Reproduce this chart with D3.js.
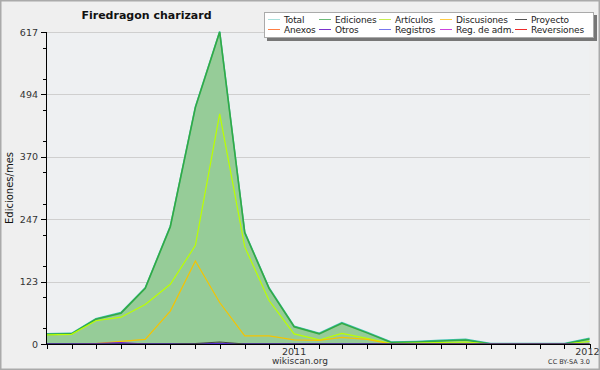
<!DOCTYPE html>
<html><head><meta charset="utf-8">
<script src="https://cdn.jsdelivr.net/npm/d3@7"></script>
<style>
html,body{margin:0;padding:0;background:#efefef;}
svg{display:block;}
text{font-family:"DejaVu Sans",sans-serif;}
</style></head>
<body>
<svg id="c" width="600" height="370"></svg>
<script>
const months = ["2010-03","2010-04","2010-05","2010-06","2010-07","2010-08","2010-09","2010-10","2010-11","2010-12",
 "2011-01","2011-02","2011-03","2011-04","2011-05","2011-06","2011-07","2011-08","2011-09","2011-10","2011-11","2011-12","2012-01"];
const total       = [19,20,49,61,110,232,468,617,220,110, 34,20,41,22,3,4,6,8,0,0,0,0, 10];
const ediciones   = [19,20,49,61,110,232,468,617,220,110, 34,20,41,22,3,4,6,8,0,0,0,0, 10];
const articulos   = [18,19,46,53,78,118,195,455,192,86, 20,8,21,11,1,2,3,4,0,0,0,0, 5];
const discusiones = [0,0,1,5,9,65,164,82,16,16, 8,7,13,9,0,1,1,1,0,0,0,0, 1];
const proyecto    = [0,0,0,0,0,0,1,4,0,0, 0,0,0,0,0,0,0,0,0,0,0,0, 0];
const otros       = [0,0,1,3,0,0,0,0,0,0, 0,0,0,0,0,0,0,0,0,0,0,0, 0];
const registros   = [1,1,1,1,1,1,1,1,1,1, 1,1,1,1,0,0,0,0,0,0,0,0, 0];
const yTicks = [0,123,247,370,494,617];
const xTickLabels = [{d:"2011-01",t:"2011",a:"middle",dx:0},{d:"2012-01",t:"2012",a:"end",dx:10}];
const legendItems = [
 {name:"Total",color:"#a8e0dc"},{name:"Ediciones",color:"#6cbb78"},{name:"Artículos",color:"#c8ee50"},
 {name:"Discusiones",color:"#ffcc44"},{name:"Proyecto",color:"#555555"},
 {name:"Anexos",color:"#ff7f44"},{name:"Otros",color:"#7a33cc"},{name:"Registros",color:"#7777ee"},
 {name:"Reg. de adm.",color:"#cc44dd"},{name:"Reversiones",color:"#ee2b2b"}];

const parse = d3.timeParse("%Y-%m");
const dates = months.map(parse);
const svg = d3.select("#c");
const x = d3.scaleTime().domain([parse("2010-03"), parse("2012-01")]).range([46.5, 589.5]);
const y = d3.scaleLinear().domain([0,617]).range([344,32]);

// frame
svg.append("rect").attr("x",0.75).attr("y",0.75).attr("width",598.5).attr("height",368.5)
  .attr("fill","#efefef").attr("stroke","#aaaaaa").attr("stroke-width",1.5);
svg.append("rect").attr("x",46.5).attr("y",32).attr("width",543).attr("height",312).attr("fill","#eef0f2");

// grid
svg.selectAll(".grid").data(yTicks.filter(v=>v>0)).join("line")
  .attr("x1",47).attr("x2",590).attr("y1",d=>Math.round(y(d))+0.5).attr("y2",d=>Math.round(y(d))+0.5)
  .attr("stroke","#cfcfcf").attr("stroke-width",1);

// series
const line = arr => d3.line().x((d,i)=>x(dates[i])).y(d=>y(d))(arr);
const area = d3.area().x((d,i)=>x(dates[i])).y0(y(0)).y1(d=>y(d));
svg.append("path").attr("d",area(ediciones)).attr("fill","#96cc98");
svg.append("path").attr("d",line(total)).attr("fill","none").attr("stroke","#3cc0b0").attr("stroke-width",1.5).attr("transform","translate(0,-0.6)");
svg.append("path").attr("d",line(ediciones)).attr("fill","none").attr("stroke","#33aa44").attr("stroke-width",1.6);
svg.append("path").attr("d",line(articulos)).attr("fill","none").attr("stroke","#bbff00").attr("stroke-width",1.2);
svg.append("path").attr("d",line(discusiones)).attr("fill","none").attr("stroke","#f5c400").attr("stroke-width",1.2);
svg.append("path").attr("d",line(registros)).attr("fill","none").attr("stroke","#3333dd").attr("stroke-width",1.2);
svg.append("path").attr("d",line(otros)).attr("fill","none").attr("stroke","#7a22cc").attr("stroke-width",1.2);
svg.append("path").attr("d",line(proyecto)).attr("fill","none").attr("stroke","#444444").attr("stroke-width",1.2);

// y axis
const yAxis = svg.append("g");
yAxis.append("line").attr("x1",46.5).attr("x2",46.5).attr("y1",32).attr("y2",344.5).attr("stroke","#000");
const minor = [];
for(let i=0;i<yTicks.length-1;i++){const a=yTicks[i],b=yTicks[i+1];minor.push(a+(b-a)*0.25,a+(b-a)*0.75);}
yAxis.selectAll(".mj").data(yTicks).join("line").attr("x1",41).attr("x2",46.5)
  .attr("y1",d=>Math.round(y(d))+0.5).attr("y2",d=>Math.round(y(d))+0.5).attr("stroke","#000");
yAxis.selectAll(".mn").data(minor).join("line").attr("x1",43).attr("x2",46.5)
  .attr("y1",d=>Math.round(y(d))+0.5).attr("y2",d=>Math.round(y(d))+0.5).attr("stroke","#000");
yAxis.selectAll(".lb").data(yTicks).join("text").attr("x",38).attr("y",d=>y(d)+3.5)
  .attr("text-anchor","end").attr("font-size",9.5).attr("fill","#333").text(d=>d);

// x axis
svg.append("line").attr("x1",46).attr("x2",590).attr("y1",344.5).attr("y2",344.5).attr("stroke","#000").attr("stroke-width",1.2);
svg.selectAll(".xt").data(dates).join("line").attr("x1",d=>Math.round(x(d))+0.5).attr("x2",d=>Math.round(x(d))+0.5)
  .attr("y1",344).attr("y2",349).attr("stroke","#000");
svg.selectAll(".xl").data(xTickLabels).join("text").attr("x",d=>x(parse(d.d))+d.dx).attr("y",355)
  .attr("text-anchor",d=>d.a).attr("font-size",9.5).attr("fill","#333").text(d=>d.t);

// titles
svg.append("text").attr("x",146.5).attr("y",19).attr("text-anchor","middle").attr("font-size",11)
  .attr("font-weight","bold").attr("fill","#111").text("Firedragon charizard");
svg.append("text").attr("transform","translate(13,188) rotate(-90)").attr("text-anchor","middle")
  .attr("font-family","'DejaVu Sans Mono',monospace").attr("font-size",10).attr("fill","#111").text("Ediciones/mes");
svg.append("text").attr("x",300).attr("y",364).attr("text-anchor","middle").attr("font-size",9).attr("fill","#333").text("wikiscan.org");
svg.append("text").attr("x",590).attr("y",364).attr("text-anchor","end").attr("font-size",6.5).attr("fill","#333").text("CC BY-SA 3.0");

// legend
const lg = svg.append("g");
lg.append("rect").attr("x",267).attr("y",15).attr("width",330).attr("height",26).attr("fill","#777");
lg.append("rect").attr("x",264.5).attr("y",12.5).attr("width",329).attr("height",25).attr("fill","#fff").attr("stroke","#aaa");
const colX = [268,319,379,440,515];
legendItems.forEach((it,i)=>{
  const c=i%5, r=Math.floor(i/5);
  const ly = 19.5 + r*10;
  lg.append("line").attr("x1",colX[c]).attr("x2",colX[c]+12).attr("y1",ly).attr("y2",ly).attr("stroke",it.color);
  lg.append("text").attr("x",colX[c]+16).attr("y",ly+3.5).attr("font-size",9).attr("letter-spacing",-0.15)
    .attr("fill","#222").text(it.name);
});
</script>
</body></html>
